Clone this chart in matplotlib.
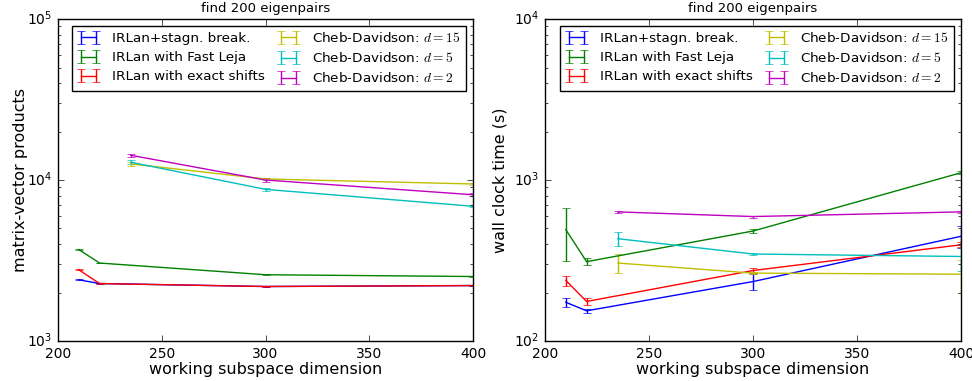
import numpy as np
import matplotlib
matplotlib.use("Agg")
import matplotlib.pyplot as plt

plt.style.use("classic")

# working subspace dimensions
dim_irlan = [210, 220, 300, 400]
dim_cheb = [235, 300, 400]

labels = ["IRLan+stagn. break.", "IRLan with Fast Leja", "IRLan with exact shifts",
          r"Cheb-Davidson: $d=15$", r"Cheb-Davidson: $d=5$", r"Cheb-Davidson: $d=2$"]
colors = ["b", "g", "r", "y", "c", "m"]

# matrix-vector products (mean, spread)
mv_stagn = [2400, 2275, 2180, 2210]
mv_stagn_err = [20, 20, 15, 15]
mv_leja = [3700, 3050, 2580, 2515]
mv_leja_err = [30, 20, 15, 15]
mv_exact = [2770, 2275, 2180, 2210]
mv_exact_err = [25, 20, 15, 15]
mv_d15 = [12600, 10150, 9450]
mv_d15_err = [350, 150, 150]
mv_d5 = [12900, 8750, 6870]
mv_d5_err = [350, 150, 100]
mv_d2 = [14250, 10000, 8100]
mv_d2_err = [350, 250, 150]

# wall clock time in seconds (mean, spread)
t_stagn = [174, 154, 234, 447]
t_stagn_err = [11, 5, 26, 69]
t_leja = [492, 311, 482, 1110]
t_leja_err = [178, 15, 14, 25]
t_exact = [238, 176, 274, 396]
t_exact_err = [17, 8, 10, 15]
t_d15 = [305, 264, 260]
t_d15_err = [41, 4, 60]
t_d5 = [432, 347, 335]
t_d5_err = [43, 7, 62]
t_d2 = [634, 593, 634]
t_d2_err = [10, 8, 8]

mv_series = [(dim_irlan, mv_stagn, mv_stagn_err), (dim_irlan, mv_leja, mv_leja_err),
             (dim_irlan, mv_exact, mv_exact_err), (dim_cheb, mv_d15, mv_d15_err),
             (dim_cheb, mv_d5, mv_d5_err), (dim_cheb, mv_d2, mv_d2_err)]
t_series = [(dim_irlan, t_stagn, t_stagn_err), (dim_irlan, t_leja, t_leja_err),
            (dim_irlan, t_exact, t_exact_err), (dim_cheb, t_d15, t_d15_err),
            (dim_cheb, t_d5, t_d5_err), (dim_cheb, t_d2, t_d2_err)]

fig = plt.figure(figsize=(9.72, 3.81), dpi=100, facecolor="white")
ax1 = fig.add_axes([0.0597, 0.105, 0.4269, 0.845])
ax2 = fig.add_axes([0.5607, 0.105, 0.428, 0.845])

panels = [(ax1, mv_series, "matrix-vector products", (1e3, 1e5), -0.073),
          (ax2, t_series, "wall clock time (s)", (1e2, 1e4), -0.089)]

for ax, series, ylabel, ylim, ylab_x in panels:
    for (x, y, e), c, lab in zip(series, colors, labels):
        ax.errorbar(x, y, yerr=e, color=c, ecolor=c, capsize=3, label=lab)
    ax.set_yscale("log")
    ax.set_xlim(200, 400)
    ax.set_ylim(*ylim)
    ax.set_xticks([200, 250, 300, 350, 400])
    ax.set_xlabel("working subspace dimension", fontsize=11.5, labelpad=1)
    ax.set_ylabel(ylabel, fontsize=11.5)
    ax.yaxis.set_label_coords(ylab_x, 0.5)
    ax.set_title("find 200 eigenpairs", fontsize=9.5)
    ax.tick_params(labelsize=10)
    ax.legend(loc="upper right", ncol=2, fontsize=9.7, numpoints=2,
              handlelength=1.7, borderaxespad=0.5, columnspacing=0.9,
              handletextpad=0.9, labelspacing=0.45)

fig.savefig("out.png", dpi=100, facecolor="white")
